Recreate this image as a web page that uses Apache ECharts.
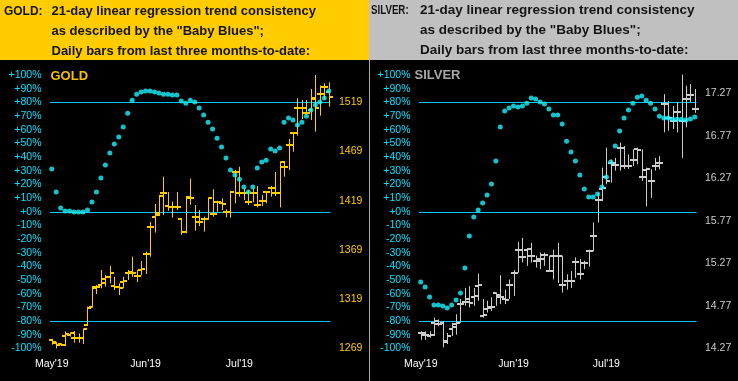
<!DOCTYPE html>
<html>
<head>
<meta charset="utf-8">
<style>html,body{margin:0;padding:0;background:#000;}#c{width:738px;height:381px;}</style>
<script src="https://cdn.jsdelivr.net/npm/echarts@6/dist/echarts.min.js"></script>
</head>
<body>
<div id="c"></div>
<script>
// ---- data ----
const days = ['05-01','05-02','05-03','05-06','05-07','05-08','05-09','05-10','05-13','05-14','05-15','05-16','05-17','05-20','05-21','05-22','05-23','05-24','05-28','05-29','05-30','05-31',
'06-03','06-04','06-05','06-06','06-07','06-10','06-11','06-12','06-13','06-14','06-17','06-18','06-19','06-20','06-21','06-24','06-25','06-26','06-27','06-28',
'07-01','07-02','07-03','07-05','07-08','07-09','07-10','07-11','07-12','07-15','07-16','07-17','07-18','07-19','07-22','07-23','07-24','07-25','07-26','07-29','07-30'];
const monthLabels = ["May'19", "Jun'19", "Jul'19"];
const monthLabelIdx = [0, 21, 42];

const goldOpen = [1277,1274,1273,1281,1283,1279,1279,1279,1292.6,1310.6,1329.9,1333.3,1339,1341.7,1332.3,1330.9,1336.7,1345.8,1345.8,1342.4,1348.5,1364.4,1392.6,1402.7,1406.1,1427.1,1413.6,1412.9,1412.9,1400,1387.5,1422.1,1402.7,1397.6,1400,1400,1405.4,1418,1416.3,1407.8,1407.8,1448.1,1427.1,1426.4,1418,1426.4,1414.6,1419,1427.5,1431.5,1426.4,1426.4,1452.9,1475.6,1487.4,1513.2,1513.2,1508.4,1511.1,1523,1527.4,1534.9,1529.8];
const goldHigh = [1278.7,1275.7,1274,1286.2,1284.8,1286.5,1284.2,1288.9,1311.3,1332.3,1333.3,1348.5,1343.4,1352.6,1341.7,1335,1341.7,1348.5,1362.1,1348.5,1357.7,1367.2,1397.3,1415.6,1424.8,1443.4,1427.8,1418,1427.8,1401.4,1423.7,1441.4,1414.6,1409.5,1402.7,1422.4,1430.5,1419,1421.4,1410.2,1428.8,1450.2,1453.5,1431.5,1429.8,1431.5,1433.9,1424.8,1428.1,1433.9,1448.1,1458.6,1459.3,1481.7,1488.1,1523,1521.3,1521.3,1532.5,1546.7,1535.9,1538.2,1539.3];
const goldLow = [1272.6,1269,1271.3,1271.3,1280.8,1274.7,1274.7,1273.3,1291.6,1310.6,1324.1,1329.9,1331.6,1335,1328.2,1323.1,1329.9,1338.4,1341.7,1336.3,1343.4,1344.5,1362.1,1386.5,1403.4,1404.4,1408.8,1401.7,1409.5,1384.4,1385.8,1414.9,1388.5,1393.2,1387.5,1399.7,1402.7,1407.8,1409.5,1402.1,1401.7,1416.3,1423.1,1419.7,1414.6,1417.3,1412.2,1413.6,1416.3,1423.1,1423.7,1412.2,1443.4,1450.2,1468.8,1485.1,1502,1506.1,1501,1489.1,1505.4,1521.3,1514.5];
const goldClose = [1275.3,1272.6,1272.3,1283.1,1284.2,1279,1279,1288.2,1310.2,1330.9,1331.6,1335,1341.7,1345.1,1330.9,1329.9,1337.7,1346.5,1345.1,1342.4,1349.9,1364.4,1392.6,1404.4,1424.1,1427.1,1412.9,1412.9,1412.9,1387.1,1422.4,1422.1,1402.1,1397.6,1400,1421.4,1405.4,1418,1415.6,1407.8,1428.1,1448.1,1427.1,1426.4,1418,1426.4,1414.9,1419,1427.5,1431.5,1426.4,1458,1452.9,1475.6,1487.4,1513.2,1513.5,1508.4,1522.3,1513.5,1527.4,1534.9,1524.7];
const goldTrend = [31.2,14.3,2.6,0.5,0.5,-0.3,-0.3,-0.3,1.2,7.0,14.3,24.6,34.1,42.9,49.5,54.6,61.9,72.1,81.6,86.0,87.5,88.2,88.2,87.5,86.8,86.0,86.0,85.3,85.3,80.9,79.4,81.6,80.2,75.8,70.7,65.5,60.4,53.8,47.3,39.2,30.4,26.8,23.8,18.0,14.3,18.0,31.9,36.3,37.7,45.8,44.3,46.5,65.5,68.5,67.0,63.4,65.5,69.9,74.3,78.0,80.2,83.1,88.2];
const goldTicks = [1269,1319,1369,1419,1469,1519];

const silverOpen = [14.45,14.43,14.42,14.57,14.56,14.57,14.36,14.50,14.56,14.79,14.81,14.81,14.87,15.00,14.65,14.73,14.76,14.92,14.87,14.85,15.01,15.16,15.43,15.34,15.43,15.36,15.30,15.32,15.37,15.18,15.36,15.36,15.02,15.06,15.06,15.285,15.14,15.27,15.41,15.59,16.01,16.14,16.28,16.45,16.43,16.63,16.415,16.415,16.49,16.61,16.29,16.37,16.24,16.415,16.45,17.14,16.98,16.94,17.05,16.94,17.20,17.25,17.09];
const silverHigh = [14.47,14.47,14.47,14.63,14.61,14.59,14.45,14.57,14.67,14.85,14.98,15.00,14.98,15.15,14.85,14.83,14.87,14.925,15.13,14.96,15.08,15.19,15.52,15.57,15.45,15.51,15.36,15.395,15.395,15.36,15.43,15.51,15.36,15.14,15.18,15.34,15.32,15.30,15.43,15.75,16.10,16.395,16.63,16.49,16.51,16.69,16.65,16.55,16.61,16.63,16.61,16.395,16.375,16.51,16.53,17.26,17.18,17.12,17.16,17.49,17.36,17.38,17.32];
const silverLow = [14.37,14.37,14.395,14.415,14.53,14.28,14.32,14.415,14.43,14.57,14.77,14.75,14.77,14.83,14.63,14.69,14.71,14.77,14.79,14.79,14.85,14.885,15.16,15.28,15.24,15.28,15.22,15.20,15.24,15.17,15.08,15.04,14.925,14.96,14.98,15.10,15.08,15.20,15.23,15.41,15.75,16.00,16.20,16.22,16.36,16.36,16.38,16.38,16.415,16.435,16.24,15.94,16.04,16.36,16.375,16.81,16.83,16.85,16.81,16.51,16.87,17.16,17.04];
const silverClose = [14.45,14.43,14.43,14.59,14.56,14.34,14.415,14.52,14.57,14.795,14.85,14.80,14.885,15.01,14.66,14.74,14.76,14.90,14.874,14.84,15.02,15.16,15.43,15.34,15.44,15.36,15.30,15.32,15.37,15.18,15.36,15.36,15.02,15.06,15.06,15.285,15.14,15.27,15.41,15.59,16.01,16.16,16.24,16.45,16.43,16.63,16.415,16.415,16.49,16.60,16.29,16.375,16.24,16.415,16.45,17.14,16.98,16.94,17.05,16.94,17.20,17.25,17.09];
const silverTrend = [-51.5,-55.2,-62.5,-68.3,-68.3,-69.1,-70.5,-68.3,-64.7,-59.5,-41.3,-17.8,-4.0,1.2,6.3,12.2,20.2,37.0,61.9,73.6,75.8,77.3,76.5,77.3,79.4,83.1,82.4,80.2,78.7,75.1,70.7,70.7,64.1,51.6,43.6,37.0,26.8,16.5,10.7,10.7,12.9,18.0,25.3,36.3,48.0,59.0,68.5,74.3,79.4,83.8,84.6,81.6,79.4,75.1,69.9,68.5,68.5,67.7,67.7,67.7,67.0,67.8,69.2];
const silverTicks = [14.27,14.77,15.27,15.77,16.27,16.77,17.27];

const pctLevels = [80, 0, -80];

// ---- styles ----
const CYAN_LBL = '#00e4ff', CYAN_DOT = '#1af4ff', LINE_C = '#00c8ff';
const GOLD_C = '#ffcc00', SILVER_C = '#cccccc';
const FONT = '"Liberation Sans", Arial, sans-serif';

function ohlc(o, h, l, c) { return o.map((v, i) => [i, v, h[i], l[i], c[i]]); }
function renderOHLC(params, api) {
  const i = api.value(0);
  const po = api.coord([i, api.value(1)]);
  const ph = api.coord([i, api.value(2)]);
  const pl = api.coord([i, api.value(3)]);
  const pc = api.coord([i, api.value(4)]);
  const x = Math.round(po[0]) + 0.5;
  const t = 3;
  const color = api.visual('color');
  return { type: 'group', children: [
    { type: 'line', shape: { x1: x, y1: ph[1], x2: x, y2: pl[1] }, style: { stroke: color, lineWidth: 1 } },
    { type: 'line', shape: { x1: x - t - 0.5, y1: Math.round(po[1]), x2: x, y2: Math.round(po[1]) }, style: { stroke: color, lineWidth: 2 } },
    { type: 'line', shape: { x1: x, y1: Math.round(pc[1]), x2: x + t + 0.5, y2: Math.round(pc[1]) }, style: { stroke: color, lineWidth: 2 } }
  ]};
}
function renderLevel(params, api) {
  const y = Math.round(api.coord([0, api.value(0)])[1]) + 0.5;
  const cs = params.coordSys;
  return { type: 'line', shape: { x1: cs.x + 0.5, y1: y, x2: cs.x + cs.width - 0.5, y2: y },
    style: { stroke: LINE_C, lineWidth: 1 } };
}
const pctFmt = v => (v >= 0 ? '+' : '') + v + '%';

function xAxisCfg(gi) {
  return {
    type: 'category', gridIndex: gi, data: days, boundaryGap: true,
    axisLine: { show: false }, axisTick: { show: false }, splitLine: { show: false },
    axisLabel: {
      color: '#ffffff', fontSize: 10.5, fontFamily: FONT, margin: 10,
      interval: (idx) => monthLabelIdx.indexOf(idx) >= 0,
      formatter: (val, idx) => { const k = monthLabelIdx.indexOf(idx); return k >= 0 ? monthLabels[k] : ''; }
    }
  };
}
function pctAxis(gi) {
  return {
    type: 'value', gridIndex: gi, position: 'left', min: -100, max: 100, interval: 10,
    axisLine: { show: false }, axisTick: { show: false }, splitLine: { show: false },
    axisLabel: { color: CYAN_LBL, fontSize: 10.5, fontFamily: FONT, margin: 8, formatter: pctFmt }
  };
}
function priceAxis(gi, min, max, ticks, color, dec) {
  return {
    type: 'value', gridIndex: gi, position: 'right', min: min, max: max,
    axisLine: { show: false }, axisTick: { show: false }, splitLine: { show: false },
    axisLabel: { color: color, fontSize: 10.5, fontFamily: FONT, margin: 8, customValues: ticks,
      formatter: v => v.toFixed(dec) }
  };
}

function hdr(x, y, text, size, sx) {
  return { type: 'text', x: x, y: y, scaleX: sx || 1, silent: true,
    style: { text: text, font: 'bold ' + size + 'px ' + FONT, fill: '#141414', verticalAlign: 'middle' } };
}

const option = {
  backgroundColor: '#000000',
  animation: false,
  graphic: [
    { type: 'rect', shape: { x: 0, y: 0, width: 369, height: 60 }, style: { fill: '#ffcc00' }, silent: true },
    { type: 'rect', shape: { x: 369, y: 0, width: 369, height: 60 }, style: { fill: '#c0c0c0' }, silent: true },
    { type: 'line', shape: { x1: 369.5, y1: 60, x2: 369.5, y2: 381 }, style: { stroke: '#a8a8a8', lineWidth: 1 }, silent: true },
    hdr(4, 11, 'GOLD:', 13, 0.92),
    hdr(51.5, 11, '21-day linear regression trend consistency', 13),
    hdr(51.5, 31, 'as described by the "Baby Blues";', 13),
    hdr(51.5, 51, 'Daily bars from last three months-to-date:', 13),
    hdr(371, 10.5, 'SILVER:', 13.5, 0.72),
    hdr(420, 10.5, '21-day linear regression trend consistency', 13.5),
    hdr(420, 30.5, 'as described by the "Baby Blues";', 13.5),
    hdr(420, 50.5, 'Daily bars from last three months-to-date:', 13.5),
    { type: 'text', x: 50.5, y: 76, silent: true, style: { text: 'GOLD', font: 'bold 13px ' + FONT, fill: '#f2c200', verticalAlign: 'middle' } },
    { type: 'text', x: 414.5, y: 75.5, silent: true, style: { text: 'SILVER', font: 'bold 13px ' + FONT, fill: '#a8a8a8', verticalAlign: 'middle' } }
  ],
  grid: [
    { left: 49.5, top: 75, width: 281.5, height: 273.3 },
    { left: 418.5, top: 75, width: 278.5, height: 273.3 }
  ],
  xAxis: [xAxisCfg(0), xAxisCfg(1)],
  yAxis: [
    pctAxis(0),
    priceAxis(0, 1269, 1546.7, goldTicks, GOLD_C, 0),
    pctAxis(1),
    priceAxis(1, 14.27, 17.485, silverTicks, SILVER_C, 2)
  ],
  series: [
    { type: 'custom', xAxisIndex: 0, yAxisIndex: 0, renderItem: renderLevel, data: pctLevels.map(v => [v]),
      encode: { y: 0 }, silent: true, z: 1 },
    { type: 'custom', xAxisIndex: 0, yAxisIndex: 1, renderItem: renderOHLC, data: ohlc(goldOpen, goldHigh, goldLow, goldClose),
      itemStyle: { color: GOLD_C }, encode: { x: 0, y: [1, 2, 3, 4] }, z: 2 },
    { type: 'scatter', xAxisIndex: 0, yAxisIndex: 0, data: goldTrend.map((v, i) => [i, v]), symbol: 'circle', symbolSize: 5,
      itemStyle: { color: CYAN_DOT }, z: 3 },
    { type: 'custom', xAxisIndex: 1, yAxisIndex: 2, renderItem: renderLevel, data: pctLevels.map(v => [v]),
      encode: { y: 0 }, silent: true, z: 1 },
    { type: 'custom', xAxisIndex: 1, yAxisIndex: 3, renderItem: renderOHLC, data: ohlc(silverOpen, silverHigh, silverLow, silverClose),
      itemStyle: { color: SILVER_C }, encode: { x: 0, y: [1, 2, 3, 4] }, z: 2 },
    { type: 'scatter', xAxisIndex: 1, yAxisIndex: 2, data: silverTrend.map((v, i) => [i, v]), symbol: 'circle', symbolSize: 5,
      itemStyle: { color: CYAN_DOT }, z: 3 }
  ]
};
const chart = echarts.init(document.getElementById('c'), null, { renderer: 'canvas' });
chart.setOption(option);
</script>
</body>
</html>
